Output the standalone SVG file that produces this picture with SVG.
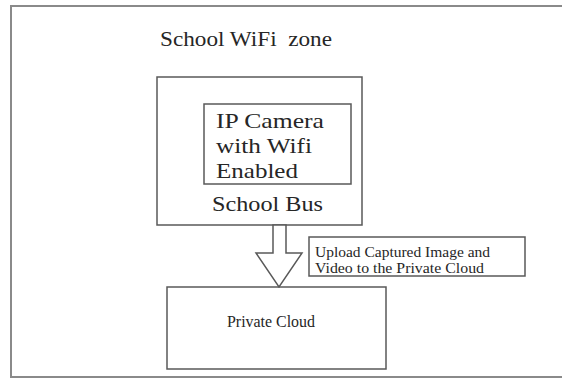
<svg xmlns="http://www.w3.org/2000/svg" width="562" height="378" viewBox="0 0 562 378">
<style>
.box{fill:#fff;stroke:#595959;stroke-width:1.5}
.frame{fill:#fff;stroke:#8a8a8a;stroke-width:2}
text{font-family:"Liberation Serif","Times New Roman",serif;fill:#262626}
</style>
<rect width="562" height="378" fill="#fff"/>
<g id="wifi-zone">
<rect class="frame" x="11" y="6" width="560" height="371"/>
<text x="160" y="46" font-size="22" style="white-space:pre" textLength="172" lengthAdjust="spacingAndGlyphs">School WiFi  zone</text>
</g>
<g id="school-bus">
<rect class="box" x="157" y="77" width="205" height="148"/>
<text x="212" y="211" font-size="21" textLength="111" lengthAdjust="spacingAndGlyphs">School Bus</text>
</g>
<g id="ip-camera">
<rect class="box" x="204" y="104" width="147" height="80"/>
<text x="216" y="128" font-size="22" textLength="108" lengthAdjust="spacingAndGlyphs">IP Camera</text>
<text x="216" y="153" font-size="22" textLength="96" lengthAdjust="spacingAndGlyphs">with Wifi</text>
<text x="216" y="178" font-size="22" textLength="82" lengthAdjust="spacingAndGlyphs">Enabled</text>
</g>
<g id="private-cloud">
<rect class="box" x="167" y="287" width="219" height="82"/>
<text x="227" y="327" font-size="16" textLength="88" lengthAdjust="spacingAndGlyphs">Private Cloud</text>
</g>
<g id="upload-label">
<rect class="box" x="309" y="237" width="216" height="39"/>
<text x="315" y="257" font-size="15" textLength="175" lengthAdjust="spacingAndGlyphs">Upload Captured Image and</text>
<text x="315" y="273" font-size="15" textLength="169" lengthAdjust="spacingAndGlyphs">Video to the Private Cloud</text>
</g>
<g id="connectors">
<polygon points="273,225 273,253 256,253 279,287 302,253 286,253 286,225" fill="#fff" stroke="#595959" stroke-width="1.5"/>
</g>
</svg>
